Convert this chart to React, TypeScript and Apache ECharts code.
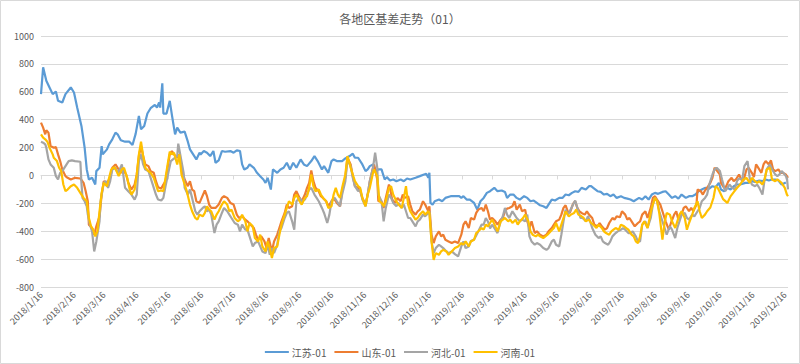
import React, { useEffect, useRef } from 'react';
import * as echarts from 'echarts';

const chartTitle = '各地区基差走势（01）';
const seriesNames = ['江苏-01', '山东-01', '河北-01', '河南-01'];
const seriesColors = ['#5B9BD5', '#ED7D31', '#A5A5A5', '#FFC000'];
const firstDate = '2018/1/16';
const lastDate = '2019/12/19';
const yMin = -800;
const yMax = 1000;
const yStep = 200;

// [days after 2018/1/16, basis]
const jiangsu: [number, number][] = [
  [0, 583], [2, 775], [5, 679], [8, 631], [11, 583], [14, 602], [16, 535], [20, 523], [23, 583], [28, 631], [31, 595], [34, 487], [38, 355], [41, 199], [43, 43], [45, -29], [48, -17], [51, -65], [52, 31], [55, 55], [57, 211], [58, 151], [62, 187], [64, 223], [67, 259], [70, 307], [72, 295], [75, 252], [79, 242], [83, 242], [86, 218], [89, 300], [92, 427], [94, 331], [97, 355], [100, 444], [103, 482], [107, 506], [109, 487], [111, 523], [112, 487], [114, 660], [115, 444], [118, 444], [121, 535], [123, 434], [126, 295], [128, 343], [131, 307], [135, 314], [138, 242], [140, 187], [143, 151], [146, 115], [149, 163], [150, 151], [153, 175], [156, 163], [159, 139], [162, 175], [164, 91], [167, 108], [170, 175], [173, 170], [178, 175], [181, 163], [184, 180], [187, 175], [189, 79], [191, 43], [194, 55], [196, 79], [200, 55], [203, 19], [206, -5], [209, -29], [211, -53], [213, -17], [216, -101], [218, 43], [222, 19], [225, 43], [228, 55], [231, 91], [234, 43], [237, 91], [240, 55], [244, 115], [247, 79], [250, 67], [254, 103], [257, 139], [260, 103], [264, 43], [266, 67], [270, 19], [273, 103], [275, 115], [278, 103], [283, 103], [286, 122], [290, 139], [293, 156], [295, 127], [298, 127], [302, 79], [305, 31], [307, 43], [309, 67], [312, 79], [315, 31], [317, 43], [320, 43], [323, -29], [325, -12], [328, -36], [331, -29], [334, -41], [338, -29], [341, -41], [344, -22], [347, -29], [352, -17], [356, -5], [360, 7], [362, 12], [364, -17], [365, 19], [366, -197], [368, -209], [370, -185], [374, -173], [377, -185], [380, -161], [385, -149], [389, -149], [393, -149], [395, -161], [397, -149], [400, -173], [403, -173], [407, -197], [410, -245], [413, -185], [416, -161], [419, -125], [422, -113], [426, -89], [429, -113], [433, -108], [436, -118], [438, -161], [441, -137], [444, -137], [447, -161], [450, -173], [454, -149], [457, -161], [460, -185], [463, -180], [466, -197], [469, -214], [472, -221], [475, -233], [478, -197], [480, -173], [483, -180], [487, -161], [490, -161], [493, -137], [496, -142], [499, -125], [502, -113], [505, -118], [508, -89], [512, -101], [515, -77], [517, -77], [519, -89], [523, -113], [526, -118], [529, -137], [532, -132], [535, -149], [538, -137], [541, -161], [545, -149], [548, -161], [551, -166], [554, -173], [557, -185], [562, -161], [565, -173], [568, -149], [571, -173], [574, -137], [577, -125], [580, -132], [584, -118], [587, -113], [590, -137], [593, -161], [596, -149], [599, -166], [602, -137], [606, -161], [609, -149], [612, -149], [615, -137], [618, -113], [621, -101], [624, -89], [628, -94], [631, -77], [634, -84], [637, -53], [639, -101], [642, -113], [645, -89], [648, -101], [651, -77], [654, -65], [657, -65], [662, -53], [665, -53], [668, -41], [671, -46], [675, -36], [678, -41], [681, -29], [684, -36], [687, -29], [690, -29], [693, -36], [696, -65], [700, -50]
];

const shandong: [number, number][] = [
  [0, 379], [2, 343], [4, 295], [5, 324], [7, 307], [9, 211], [12, 199], [14, 204], [16, 151], [18, 103], [20, 43], [23, -5], [25, -17], [28, -29], [32, -17], [37, -22], [40, -53], [42, -113], [44, -185], [45, -353], [48, -377], [50, -425], [52, -365], [55, -293], [57, -137], [59, -41], [62, -53], [65, -17], [67, 55], [70, 79], [72, 55], [75, 19], [77, 43], [80, 7], [82, -53], [85, -101], [88, -65], [90, 7], [92, 139], [94, 211], [96, 139], [98, 79], [101, 67], [103, 31], [106, 19], [108, -41], [110, -84], [113, -94], [115, -65], [117, -41], [119, 55], [121, 151], [123, 175], [125, 151], [128, 127], [130, 151], [132, 55], [135, -29], [138, -77], [140, -41], [142, -101], [144, -113], [146, -185], [149, -197], [151, -161], [154, -108], [156, -149], [158, -209], [160, -233], [164, -233], [167, -209], [170, -161], [172, -149], [175, -161], [178, -197], [181, -209], [184, -281], [186, -305], [189, -293], [192, -317], [194, -329], [197, -353], [200, -377], [202, -425], [204, -461], [207, -437], [210, -473], [212, -521], [214, -449], [217, -545], [219, -473], [222, -425], [224, -377], [226, -329], [229, -269], [231, -209], [233, -233], [236, -221], [238, -137], [240, -113], [243, -161], [245, -185], [248, -137], [250, -89], [252, -53], [254, 36], [256, -41], [258, -89], [261, -113], [263, -149], [265, -161], [268, -185], [270, -221], [273, -185], [275, -161], [278, -197], [281, -221], [283, -113], [286, -17], [288, 127], [291, 79], [293, -5], [295, -77], [298, -89], [300, -113], [302, -161], [305, -209], [307, -137], [309, -41], [312, 55], [313, 79], [316, -29], [317, -185], [320, -185], [322, -233], [324, -161], [327, -65], [328, -89], [330, -173], [333, -197], [335, -161], [338, -185], [340, -137], [342, -161], [345, -149], [347, -209], [349, -257], [352, -281], [354, -257], [356, -245], [359, -185], [361, -209], [364, -257], [365, -221], [367, -425], [369, -485], [371, -437], [374, -401], [376, -437], [378, -425], [380, -461], [383, -473], [386, -485], [389, -473], [392, -485], [395, -425], [397, -353], [399, -329], [402, -377], [404, -305], [407, -317], [409, -269], [411, -245], [414, -233], [416, -257], [418, -209], [420, -257], [422, -317], [424, -305], [427, -329], [429, -353], [432, -317], [434, -305], [436, -257], [438, -238], [440, -233], [443, -221], [445, -185], [447, -245], [450, -209], [452, -257], [455, -245], [457, -329], [459, -377], [461, -329], [464, -413], [466, -401], [469, -425], [472, -437], [475, -425], [477, -401], [480, -377], [482, -353], [484, -329], [487, -317], [489, -281], [491, -233], [493, -214], [495, -257], [497, -269], [500, -204], [502, -185], [504, -233], [506, -257], [508, -269], [511, -281], [513, -257], [515, -281], [518, -305], [520, -353], [523, -365], [525, -341], [527, -365], [530, -389], [532, -377], [534, -341], [537, -305], [539, -317], [541, -293], [544, -300], [546, -257], [549, -281], [551, -317], [553, -305], [555, -329], [558, -365], [561, -341], [563, -329], [565, -281], [568, -257], [570, -305], [573, -233], [575, -161], [577, -149], [580, -185], [582, -209], [584, -257], [587, -329], [590, -389], [592, -341], [595, -281], [597, -257], [599, -317], [602, -281], [604, -233], [606, -221], [609, -257], [611, -233], [613, -257], [616, -209], [617, -101], [620, -113], [622, -137], [624, -108], [627, -77], [629, -53], [631, -17], [633, 55], [635, 36], [638, 7], [639, -53], [642, -89], [644, -77], [646, -41], [649, -17], [651, -41], [653, -29], [656, 7], [658, -29], [660, -41], [663, 43], [665, 55], [668, 19], [670, -12], [672, 79], [675, 43], [677, 19], [679, 79], [681, 103], [684, 79], [686, 108], [688, 43], [690, 31], [693, 43], [695, 19], [697, 19], [700, 7], [702, -17]
];

const hebei: [number, number][] = [
  [0, 242], [2, 235], [4, 223], [5, 199], [7, 115], [9, 79], [12, 55], [14, -5], [16, -29], [18, 19], [20, 31], [23, 67], [26, 103], [29, 108], [32, 103], [37, 98], [38, -53], [39, -161], [41, -185], [43, -221], [44, -281], [46, -353], [48, -401], [50, -545], [52, -473], [55, -329], [56, -185], [59, -53], [61, -41], [63, -89], [65, -41], [67, 43], [70, 55], [72, 19], [74, 43], [76, 79], [79, -89], [82, -113], [85, -137], [88, -173], [90, -137], [92, 103], [94, 151], [96, 79], [98, 43], [101, 31], [103, -17], [106, -89], [108, -137], [110, -173], [113, -180], [115, -161], [117, -77], [120, 31], [122, 103], [124, 115], [128, 139], [129, 228], [132, 103], [134, 19], [135, -89], [138, -137], [140, -101], [142, -161], [145, -257], [147, -281], [149, -257], [152, -233], [154, -221], [156, -257], [158, -245], [160, -281], [163, -413], [165, -353], [167, -329], [170, -269], [172, -233], [175, -257], [177, -281], [179, -305], [182, -341], [185, -353], [187, -401], [189, -353], [192, -389], [194, -389], [196, -437], [199, -509], [201, -485], [204, -473], [206, -509], [208, -545], [211, -557], [213, -497], [215, -569], [217, -521], [219, -557], [222, -497], [224, -401], [226, -377], [229, -305], [231, -269], [233, -257], [236, -329], [238, -389], [240, -185], [243, -161], [245, -185], [248, -173], [250, -137], [252, -101], [254, -89], [257, -137], [259, -161], [261, -185], [264, -233], [266, -269], [269, -341], [271, -281], [273, -185], [276, -161], [278, -185], [279, -197], [281, -221], [283, -137], [286, -41], [288, 115], [291, 67], [293, -17], [295, -77], [298, -113], [300, -101], [302, -173], [305, -221], [307, -137], [309, -41], [312, 55], [314, 163], [316, 55], [317, -137], [320, -185], [322, -329], [324, -233], [327, -137], [329, -161], [331, -197], [334, -221], [336, -197], [339, -233], [341, -209], [343, -257], [345, -305], [347, -305], [349, -329], [352, -365], [354, -329], [356, -317], [359, -281], [361, -293], [364, -269], [365, -257], [367, -473], [369, -557], [371, -521], [374, -497], [376, -509], [378, -521], [381, -545], [383, -557], [386, -545], [389, -564], [392, -581], [395, -509], [397, -473], [399, -521], [402, -509], [404, -470], [407, -460], [409, -430], [411, -400], [414, -353], [416, -353], [418, -305], [420, -330], [422, -380], [424, -353], [427, -389], [429, -413], [432, -329], [434, -293], [436, -233], [438, -281], [440, -305], [443, -257], [445, -281], [447, -305], [450, -329], [452, -317], [455, -329], [457, -281], [459, -437], [461, -473], [464, -497], [466, -485], [469, -497], [472, -521], [475, -533], [477, -521], [480, -473], [482, -461], [484, -497], [487, -509], [489, -425], [491, -329], [493, -245], [495, -281], [497, -257], [500, -209], [502, -180], [505, -257], [507, -305], [509, -305], [512, -329], [514, -293], [516, -329], [518, -377], [521, -425], [524, -449], [526, -437], [528, -473], [530, -485], [533, -497], [535, -473], [537, -437], [540, -413], [542, -401], [545, -389], [547, -377], [549, -389], [552, -413], [554, -413], [556, -401], [559, -437], [561, -473], [563, -473], [565, -353], [568, -329], [570, -377], [573, -305], [575, -209], [577, -161], [579, -185], [581, -257], [584, -329], [586, -377], [588, -425], [591, -365], [593, -389], [596, -449], [598, -377], [600, -329], [602, -281], [605, -269], [607, -305], [609, -317], [612, -281], [614, -293], [617, -257], [619, -233], [621, -185], [624, -161], [626, -137], [628, -65], [631, 7], [633, 43], [635, 55], [638, 31], [640, -29], [643, -113], [645, -89], [647, -65], [649, -84], [652, -101], [654, -41], [656, -22], [659, -29], [661, 67], [664, 103], [666, -17], [668, -65], [671, -77], [673, -65], [675, -89], [678, -137], [680, -29], [682, 43], [685, 79], [687, 43], [690, 7], [692, -5], [694, 7], [696, 31], [699, 7], [701, -17], [702, -100]
];

const henan: [number, number][] = [
  [0, 295], [2, 271], [4, 259], [6, 242], [8, 199], [11, 151], [12, 127], [15, 103], [17, 55], [19, 31], [21, -65], [23, -113], [25, -101], [28, -77], [31, -65], [34, -89], [38, -137], [40, -161], [43, -185], [45, -305], [47, -365], [49, -389], [51, -437], [53, -401], [55, -257], [57, -125], [59, -53], [62, -77], [64, -17], [66, 43], [69, 60], [71, 31], [73, -5], [76, 43], [78, 55], [81, -17], [83, -89], [85, -137], [88, -101], [90, 7], [92, 151], [94, 242], [96, 139], [98, 55], [101, 31], [103, 19], [106, -17], [108, -65], [110, -113], [113, -108], [115, -113], [117, -17], [119, 79], [121, 170], [123, 151], [125, 163], [128, 79], [130, 151], [132, 7], [135, -65], [137, -113], [140, -209], [142, -257], [145, -305], [147, -317], [149, -281], [152, -293], [154, -269], [156, -221], [158, -245], [160, -257], [163, -317], [165, -281], [167, -257], [170, -209], [172, -185], [175, -209], [177, -257], [179, -245], [182, -305], [185, -329], [187, -317], [189, -281], [192, -329], [194, -401], [196, -341], [199, -365], [201, -449], [204, -473], [206, -425], [208, -509], [211, -545], [213, -473], [215, -521], [217, -593], [219, -521], [222, -509], [224, -425], [226, -353], [229, -281], [231, -233], [233, -185], [236, -209], [238, -161], [240, -137], [243, -185], [245, -209], [248, -161], [250, -149], [252, -89], [254, 7], [256, -77], [258, -113], [261, -101], [263, -137], [265, -161], [268, -185], [270, -233], [273, -221], [275, -137], [277, -89], [279, -137], [281, -161], [283, -89], [286, 7], [288, 139], [291, 55], [293, 7], [295, -41], [298, -77], [300, -89], [302, -161], [305, -221], [307, -137], [309, -89], [312, 19], [313, 43], [316, -5], [318, -185], [320, -197], [322, -221], [324, -185], [327, -89], [329, -77], [331, -137], [334, -185], [336, -209], [339, -233], [341, -161], [343, -77], [345, -209], [347, -257], [349, -281], [352, -317], [354, -305], [356, -281], [359, -257], [361, -281], [364, -257], [365, -269], [367, -473], [369, -605], [371, -557], [374, -569], [376, -545], [378, -533], [381, -545], [383, -569], [386, -545], [389, -521], [392, -509], [395, -485], [397, -497], [399, -473], [402, -509], [404, -473], [407, -461], [409, -413], [411, -401], [414, -377], [416, -389], [418, -353], [420, -365], [422, -341], [424, -317], [427, -365], [429, -401], [432, -329], [434, -317], [436, -305], [439, -329], [441, -317], [443, -341], [446, -317], [448, -353], [450, -329], [453, -305], [455, -281], [458, -329], [460, -401], [462, -425], [465, -437], [467, -425], [469, -437], [472, -449], [476, -425], [479, -401], [482, -377], [484, -341], [487, -401], [489, -353], [491, -305], [493, -257], [496, -293], [498, -281], [501, -269], [503, -245], [505, -281], [508, -293], [510, -305], [512, -329], [515, -317], [517, -341], [519, -353], [522, -377], [524, -353], [527, -377], [529, -401], [531, -413], [534, -425], [536, -401], [538, -389], [540, -377], [543, -389], [545, -353], [548, -365], [550, -377], [552, -389], [555, -425], [557, -437], [559, -473], [561, -485], [563, -437], [565, -353], [567, -329], [570, -377], [572, -305], [574, -233], [577, -161], [579, -185], [581, -269], [584, -461], [586, -341], [588, -269], [591, -281], [593, -329], [596, -377], [598, -329], [600, -281], [602, -257], [605, -305], [607, -389], [609, -341], [612, -281], [614, -233], [617, -185], [619, -257], [621, -305], [624, -281], [626, -257], [629, -230], [632, -160], [634, -77], [636, -90], [638, -120], [641, -170], [645, -197], [648, -150], [651, -120], [654, -90], [657, -65], [660, -30], [663, -17], [666, -53], [668, -17], [671, -41], [673, -53], [675, -41], [678, -65], [680, -29], [682, 43], [685, 55], [687, -29], [690, -41], [692, -29], [694, -41], [696, -53], [699, -89], [701, -137], [702, -149]
];

const seriesData = [jiangsu, shandong, hebei, henan];

function buildDates(start: string, end: string): string[] {
  const [y0, m0, d0] = start.split('/').map(Number);
  const [y1, m1, d1] = end.split('/').map(Number);
  const t0 = Date.UTC(y0, m0 - 1, d0);
  const t1 = Date.UTC(y1, m1 - 1, d1);
  const out: string[] = [];
  for (let t = t0; t <= t1; t += 86400000) {
    const dt = new Date(t);
    out.push(`${dt.getUTCFullYear()}/${dt.getUTCMonth() + 1}/${dt.getUTCDate()}`);
  }
  return out;
}

const FONT = "'Noto Sans CJK SC', 'Noto Sans', sans-serif";
const TEXT = '#595959';
const GRID = '#D9D9D9';

export default function App() {
  const ref = useRef<HTMLDivElement>(null);

  useEffect(() => {
    document.body.style.margin = '0';
    if (!ref.current) return;
    const chart = echarts.init(ref.current, undefined, { renderer: 'svg' });
    const dates = buildDates(firstDate, lastDate);
    const isMonthMark = (_i: number, v: string) => v.endsWith('/16');

    chart.setOption({
      animation: false,
      backgroundColor: '#FFFFFF',
      textStyle: { fontFamily: FONT },
      graphic: [
        {
          type: 'rect',
          shape: { x: 0.5, y: 0.5, width: 799, height: 363 },
          style: { fill: 'none', stroke: GRID, lineWidth: 1 },
          silent: true,
          z: -1,
        },
      ],
      title: {
        text: chartTitle,
        left: 'center',
        top: 7,
        textStyle: { fontSize: 12, fontWeight: 'normal', color: TEXT, fontFamily: FONT },
      },
      legend: {
        data: seriesNames,
        left: 'center',
        top: 342,
        icon: 'rect',
        itemWidth: 24,
        itemHeight: 2,
        itemGap: 8,
        textStyle: { fontSize: 10, color: TEXT, fontFamily: FONT, padding: [0, 0, 0, -2] },
      },
      grid: { left: 41, right: 12, top: 36, bottom: 77, containLabel: false },
      xAxis: [
        {
          type: 'category',
          data: dates,
          boundaryGap: false,
          position: 'bottom',
          axisLine: { show: false, onZero: false },
          axisTick: { show: false },
          splitLine: { show: false },
          axisLabel: {
            interval: isMonthMark,
            rotate: 45,
            fontSize: 9,
            color: TEXT,
            margin: 6,
            fontFamily: FONT,
          },
        },
        {
          type: 'category',
          data: dates,
          boundaryGap: false,
          position: 'bottom',
          axisLine: { show: true, onZero: true, lineStyle: { color: GRID, width: 1 } },
          axisTick: { show: true, interval: isMonthMark, length: 4, lineStyle: { color: GRID } },
          axisLabel: { show: false },
          splitLine: { show: false },
        },
      ],
      yAxis: {
        type: 'value',
        min: yMin,
        max: yMax,
        interval: yStep,
        axisLine: { show: false },
        axisTick: { show: false },
        axisLabel: {
          fontSize: 9,
          color: TEXT,
          margin: 7,
          fontFamily: FONT,
          formatter: (v: number) => String(v),
        },
        splitLine: { lineStyle: { color: GRID, width: 1 } },
      },
      series: seriesNames.map((name, i) => ({
        name,
        type: 'line',
        xAxisIndex: 0,
        data: seriesData[i],
        showSymbol: false,
        symbol: 'none',
        lineStyle: { width: 2.2, color: seriesColors[i] },
        itemStyle: { color: seriesColors[i] },
        emphasis: { disabled: true },
      })),
    });

    return () => chart.dispose();
  }, []);

  return <div ref={ref} style={{ width: 800, height: 364 }} />;
}
